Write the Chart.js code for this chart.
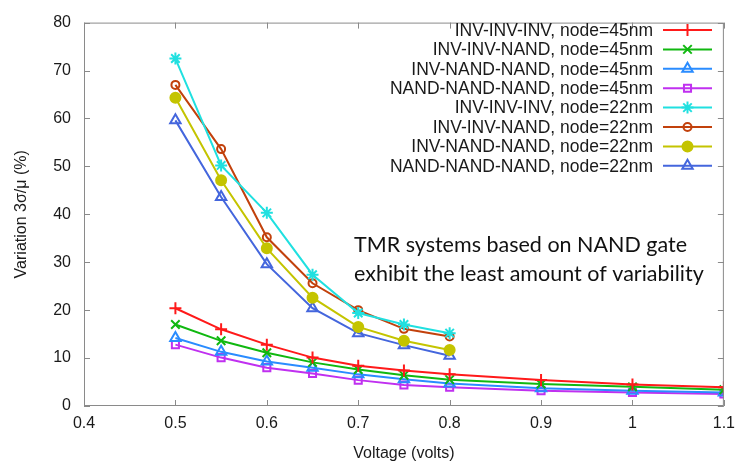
<!DOCTYPE html>
<html lang="en">
<head>
    <meta charset="UTF-8">
    <title>TMR variation</title>
    <script src="https://cdn.jsdelivr.net/npm/chart.js@4.4.0/dist/chart.umd.min.js"></script>
    <style>
        html, body { margin: 0; padding: 0; background: #fff; }
        #wrap { width: 743px; height: 463px; }
    </style>
</head>
<body>
<div id="wrap"><canvas id="myLineChart" width="743" height="463"></canvas></div>
<script>
    // supply voltages (volts)
    var volts45 = [0.5, 0.55, 0.6, 0.65, 0.7, 0.75, 0.8, 0.9, 1.0, 1.1];
    var volts22 = [0.5, 0.55, 0.6, 0.65, 0.7, 0.75, 0.8];

    // 3sigma/mu variation (%), 45nm node
    var invInvInv45   = [20.4, 16.0, 12.8, 10.1, 8.4, 7.4, 6.6, 5.4, 4.5, 3.9];
    var invInvNand45  = [17.0, 13.6, 11.1, 9.1, 7.6, 6.4, 5.5, 4.6, 4.0, 3.4];
    var invNandNand45 = [14.2, 11.3, 9.3, 8.0, 6.6, 5.6, 4.7, 3.7, 3.2, 2.8];
    var nandNandNand45 = [12.8, 10.1, 8.0, 6.8, 5.4, 4.4, 3.9, 3.2, 2.8, 2.5];

    // 3sigma/mu variation (%), 22nm node
    var invInvInv22   = [72.5, 50.2, 40.3, 27.4, 19.4, 17.0, 15.2];
    var invInvNand22  = [67.0, 53.6, 35.2, 25.6, 20.0, 16.1, 14.5];
    var invNandNand22 = [64.3, 47.1, 32.9, 22.6, 16.5, 13.6, 11.7];
    var nandNandNand22 = [59.6, 43.6, 29.6, 20.4, 15.2, 12.7, 10.5];

    var seriesNames = [
        'INV-INV-INV, node=45nm', 'INV-INV-NAND, node=45nm',
        'INV-NAND-NAND, node=45nm', 'NAND-NAND-NAND, node=45nm',
        'INV-INV-INV, node=22nm', 'INV-INV-NAND, node=22nm',
        'INV-NAND-NAND, node=22nm', 'NAND-NAND-NAND, node=22nm'
    ];

    var xTicks = [0.4, 0.5, 0.6, 0.7, 0.8, 0.9, 1.0, 1.1];
    var yTicks = [0, 10, 20, 30, 40, 50, 60, 70, 80];

    var noteLines = ['TMR systems based on NAND gate', 'exhibit the least amount of variability'];

    function pts(xs, ys) {
        return ys.map(function (y, i) { return {x: xs[i], y: y}; });
    }

    function series(label, xs, ys, color, style, filled, radius) {
        return {
            label: label,
            data: pts(xs, ys),
            borderColor: color,
            backgroundColor: filled ? color : 'rgba(0,0,0,0)',
            borderWidth: 2,
            pointStyle: style,
            pointRadius: radius,
            pointBorderWidth: 2,
            pointBorderColor: color,
            pointBackgroundColor: filled ? color : 'rgba(0,0,0,0)',
            tension: 0
        };
    }

    var datasets = [
        series(seriesNames[0], volts45, invInvInv45, '#ff1a1a', 'cross', false, 6),
        series(seriesNames[1], volts45, invInvNand45, '#10b810', 'crossRot', false, 6),
        series(seriesNames[2], volts45, invNandNand45, '#2a8cff', 'triangle', false, 6),
        series(seriesNames[3], volts45, nandNandNand45, '#c030f0', 'rect', false, 5),
        series(seriesNames[4], volts22, invInvInv22, '#20e0e0', 'star', false, 6),
        series(seriesNames[5], volts22, invInvNand22, '#c2410c', 'circle', false, 4),
        series(seriesNames[6], volts22, invNandNand22, '#c4c400', 'circle', true, 5),
        series(seriesNames[7], volts22, nandNandNand22, '#4466dd', 'triangle', false, 6)
    ];

    // gnuplot-like frame: border all round, ticks pointing inward on every side
    var framePlugin = {
        id: 'frame',
        afterDraw: function (chart) {
            var ctx = chart.ctx, a = chart.chartArea;
            var xs = chart.scales.x, ys = chart.scales.y;
            ctx.save();
            ctx.strokeStyle = '#8a8a8a';
            ctx.lineWidth = 1;
            ctx.strokeRect(a.left + 0.5, a.top + 0.5, a.right - a.left - 1, a.bottom - a.top - 1);
            ctx.beginPath();
            xTicks.forEach(function (v) {
                var px = Math.round(xs.getPixelForValue(v)) + 0.5;
                ctx.moveTo(px, a.bottom); ctx.lineTo(px, a.bottom - 6);
                ctx.moveTo(px, a.top); ctx.lineTo(px, a.top + 6);
            });
            yTicks.forEach(function (v) {
                var py = Math.round(ys.getPixelForValue(v)) + 0.5;
                ctx.moveTo(a.left, py); ctx.lineTo(a.left + 6, py);
                ctx.moveTo(a.right, py); ctx.lineTo(a.right - 6, py);
            });
            ctx.stroke();
            ctx.restore();
        }
    };

    // key in the top right corner, text right-aligned before the sample
    var keyPlugin = {
        id: 'key',
        afterDraw: function (chart) {
            var ctx = chart.ctx;
            var textRight = 653, lineL = 663, lineR = 712, top = 30, step = 19.4;
            ctx.save();
            ctx.font = '17.5px "Liberation Sans", Arial, sans-serif';
            ctx.textAlign = 'right';
            ctx.textBaseline = 'middle';
            chart.data.datasets.forEach(function (ds, i) {
                var y = top + i * step;
                ctx.fillStyle = '#1a1a1a';
                ctx.fillText(ds.label, textRight, y + 1);
                ctx.strokeStyle = ds.borderColor;
                ctx.lineWidth = 2;
                ctx.beginPath();
                ctx.moveTo(lineL, y); ctx.lineTo(lineR, y);
                ctx.stroke();
                ctx.fillStyle = ds.pointBackgroundColor;
                Chart.helpers.drawPoint(ctx, {
                    pointStyle: ds.pointStyle,
                    radius: ds.pointRadius,
                    borderWidth: ds.pointBorderWidth,
                    rotation: 0
                }, (lineL + lineR) / 2, y);
                if (ds.pointBackgroundColor !== 'rgba(0,0,0,0)') ctx.fill();
            });
            ctx.restore();
        }
    };

    // two-line remark, sized so the lines span roughly 320 and 360 px
    var notePlugin = {
        id: 'note',
        afterDraw: function (chart) {
            var ctx = chart.ctx;
            var family = 'Lato, "Open Sans", sans-serif';
            ctx.save();
            ctx.font = '20px ' + family;
            var w = ctx.measureText(noteLines[0]).width + ctx.measureText(noteLines[1]).width;
            var size = 20 * 683 / w;
            ctx.font = size.toFixed(1) + 'px ' + family;
            ctx.fillStyle = '#111';
            ctx.textAlign = 'left';
            ctx.textBaseline = 'alphabetic';
            ctx.fillText(noteLines[0], 354, 252);
            ctx.fillText(noteLines[1], 354, 281);
            ctx.restore();
        }
    };

    var tickFont = {family: '"Liberation Sans", Arial, sans-serif', size: 16};

    new Chart(document.getElementById('myLineChart'), {
        type: 'line',
        data: {datasets: datasets},
        plugins: [framePlugin, keyPlugin, notePlugin],
        options: {
            responsive: false,
            animation: false,
            layout: {padding: {top: 16, right: 8, left: 0, bottom: 0}},
            plugins: {legend: {display: false}, tooltip: {enabled: false}},
            scales: {
                x: {
                    type: 'linear',
                    min: 0.4,
                    max: 1.1,
                    afterBuildTicks: function (scale) {
                        scale.ticks = xTicks.map(function (v) { return {value: v}; });
                    },
                    afterFit: function (scale) { scale.height = 57; },
                    grid: {display: false, drawTicks: false},
                    border: {display: false},
                    ticks: {
                        color: '#1a1a1a', font: tickFont, padding: 8, maxRotation: 0,
                        callback: function (v) { return String(Math.round(v * 10) / 10); }
                    },
                    title: {
                        display: true, text: 'Voltage (volts)', color: '#1a1a1a',
                        font: tickFont, padding: {top: 3, bottom: 0}
                    }
                },
                y: {
                    min: 0,
                    max: 80,
                    afterBuildTicks: function (scale) {
                        scale.ticks = yTicks.map(function (v) { return {value: v}; });
                    },
                    afterFit: function (scale) { scale.width = 84; },
                    grid: {display: false, drawTicks: false},
                    border: {display: false},
                    ticks: {color: '#1a1a1a', font: tickFont, padding: 13},
                    title: {
                        display: true, text: 'Variation 3σ/μ (%)', color: '#1a1a1a',
                        font: tickFont, padding: {top: 12, bottom: 0}
                    }
                }
            }
        }
    });
</script>
</body>
</html>
